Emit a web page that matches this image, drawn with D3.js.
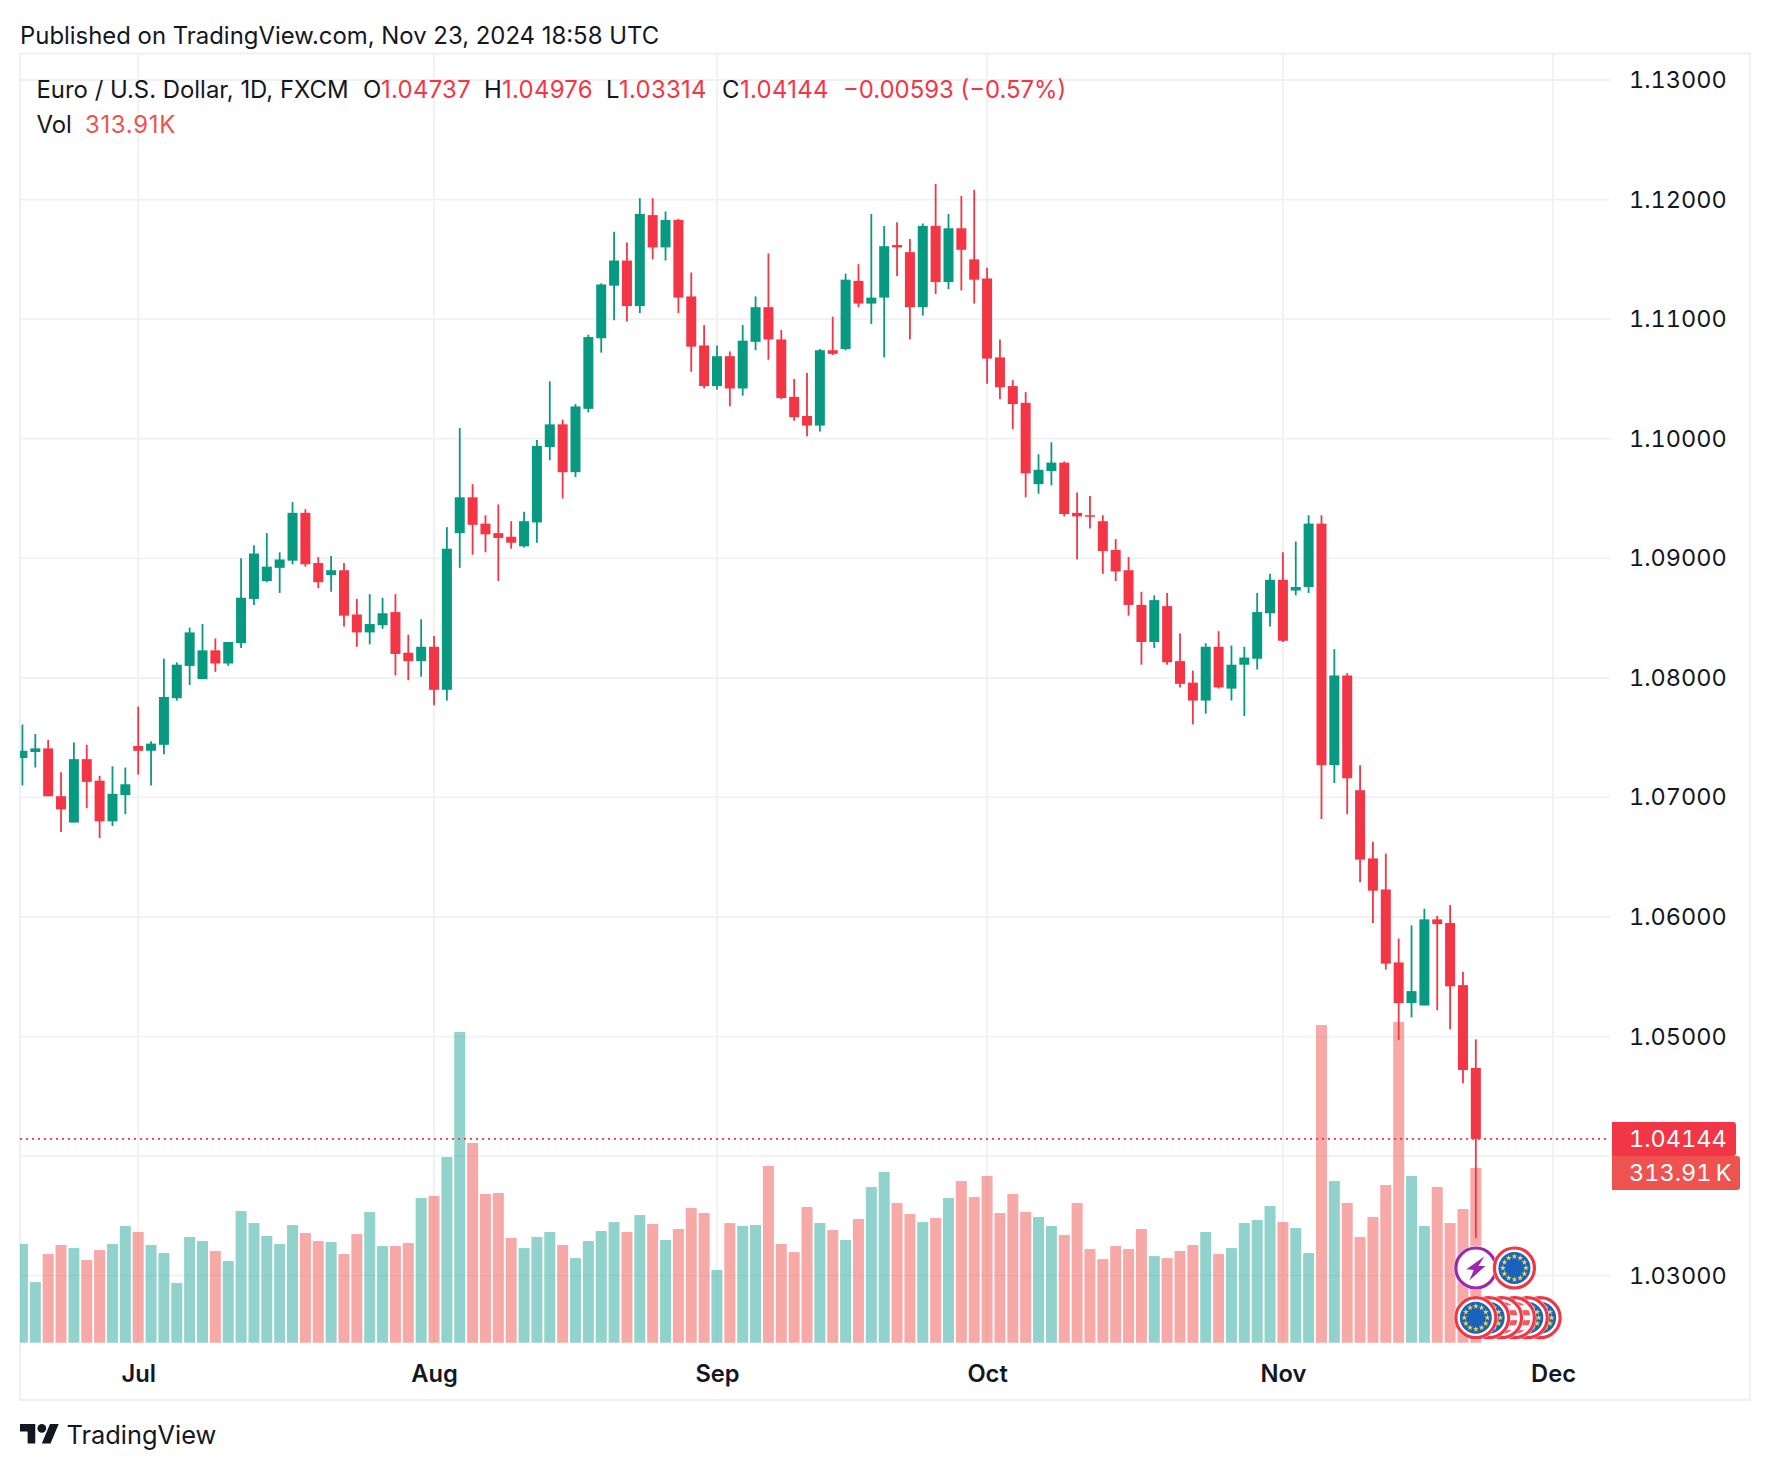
<!DOCTYPE html>
<html>
  <head>
    <meta charset="utf-8">
    <title>Euro / U.S. Dollar, 1D, FXCM</title>
    <script src="https://d3js.org/d3.v7.min.js"></script>
    <style>
      body { margin: 0; background: #fff; }
      text { font-family: Inter, sans-serif; fill: #131722; }
      .nums { font-variant-numeric: tabular-nums; font-feature-settings: "tnum"; }
    </style>
  </head>
  <body>
    <div id="chart"></div>
    <script>
      // One daily candle per entry, Jun 18 to Nov 22 2024
      const opens = [1.0733,1.0738,1.0741,1.0701,1.0679,1.0732,1.0714,1.0680,1.0702,1.0743,1.0739,1.0744,1.0783,1.0810,1.0799,1.0823,1.0812,1.0829,1.0866,1.0881,1.0892,1.0898,1.0938,1.0896,1.0886,1.0890,1.0853,1.0838,1.0844,1.0855,1.0821,1.0814,1.0826,1.0790,1.0921,1.0951,1.0929,1.0921,1.0918,1.0910,1.0930,1.0993,1.1012,1.0972,1.1025,1.1084,1.1128,1.1149,1.1111,1.1187,1.1160,1.1183,1.1119,1.1078,1.1044,1.1069,1.1042,1.1081,1.1110,1.1083,1.1035,1.1019,1.1011,1.1074,1.1075,1.1132,1.1113,1.1118,1.1162,1.1156,1.1110,1.1178,1.1131,1.1176,1.1150,1.1134,1.1068,1.1044,1.1030,1.0962,1.0973,1.0980,1.0938,1.0936,1.0931,1.0907,1.0890,1.0861,1.0830,1.0860,1.0814,1.0796,1.0781,1.0826,1.0791,1.0811,1.0816,1.0854,1.0882,1.0873,1.0876,1.0929,1.0727,1.0802,1.0706,1.0649,1.0623,1.0562,1.0528,1.0526,1.0598,1.0595,1.0543,1.04737];
      const highs = [1.0761,1.0753,1.0748,1.0721,1.0746,1.0744,1.0718,1.0726,1.0725,1.0776,1.0747,1.0816,1.0813,1.0842,1.0845,1.0833,1.0830,1.0900,1.0911,1.0921,1.0905,1.0947,1.0941,1.0901,1.0902,1.0896,1.0866,1.0870,1.0867,1.0870,1.0836,1.0849,1.0835,1.0926,1.1009,1.0962,1.0936,1.0945,1.0931,1.0939,1.0999,1.1048,1.1016,1.1029,1.1087,1.1130,1.1173,1.1164,1.1201,1.1201,1.1190,1.1184,1.1139,1.1095,1.1078,1.1073,1.1095,1.1119,1.1155,1.1091,1.1050,1.1055,1.1075,1.1102,1.1138,1.1146,1.1188,1.1178,1.1181,1.1167,1.1180,1.1213,1.1188,1.1203,1.1208,1.1143,1.1083,1.1049,1.1039,1.0987,1.0997,1.0981,1.0955,1.0952,1.0936,1.0916,1.0901,1.0872,1.0869,1.0871,1.0837,1.0806,1.0829,1.0839,1.0827,1.0826,1.0871,1.0887,1.0905,1.0914,1.0936,1.0936,1.0824,1.0804,1.0727,1.0663,1.0653,1.0582,1.0593,1.0607,1.0601,1.0610,1.0554,1.04976];
      const lows = [1.0710,1.0725,1.0701,1.0671,1.0679,1.0691,1.0666,1.0676,1.0686,1.0719,1.0710,1.0736,1.0781,1.0794,1.0799,1.0805,1.0810,1.0825,1.0861,1.0880,1.0871,1.0895,1.0893,1.0875,1.0872,1.0843,1.0826,1.0828,1.0841,1.0802,1.0798,1.0801,1.0777,1.0781,1.0892,1.0903,1.0905,1.0881,1.0908,1.0909,1.0913,1.0982,1.0950,1.0968,1.1022,1.1072,1.1099,1.1098,1.1105,1.1150,1.1149,1.1105,1.1056,1.1042,1.1041,1.1027,1.1036,1.1074,1.1066,1.1033,1.1015,1.1002,1.1006,1.1070,1.1074,1.1110,1.1096,1.1068,1.1136,1.1083,1.1103,1.1121,1.1125,1.1124,1.1113,1.1046,1.1033,1.1008,1.0951,1.0954,1.0961,1.0935,1.0899,1.0925,1.0887,1.0881,1.0852,1.0811,1.0825,1.0811,1.0792,1.0761,1.0770,1.0791,1.0781,1.0768,1.0807,1.0843,1.0830,1.0869,1.0871,1.0682,1.0712,1.0686,1.0629,1.0595,1.0556,1.0497,1.0516,1.0526,1.0522,1.0506,1.0461,1.03314];
      const closes = [1.0739,1.0741,1.0701,1.0690,1.0732,1.0713,1.0680,1.0703,1.0711,1.0739,1.0745,1.0784,1.0811,1.0838,1.0823,1.0812,1.0830,1.0867,1.0904,1.0893,1.0899,1.0938,1.0895,1.0880,1.0890,1.0852,1.0838,1.0845,1.0854,1.0820,1.0814,1.0826,1.0790,1.0908,1.0951,1.0928,1.0920,1.0917,1.0913,1.0931,1.0994,1.1012,1.0972,1.1027,1.1085,1.1129,1.1149,1.1111,1.1188,1.1160,1.1183,1.1118,1.1077,1.1044,1.1069,1.1042,1.1082,1.1110,1.1083,1.1034,1.1018,1.1011,1.1074,1.1071,1.1133,1.1113,1.1118,1.1161,1.1160,1.1110,1.1178,1.1131,1.1176,1.1158,1.1133,1.1067,1.1043,1.1029,1.0971,1.0974,1.0980,1.0937,1.0935,1.0935,1.0906,1.0889,1.0861,1.0830,1.0865,1.0813,1.0795,1.0781,1.0826,1.0792,1.0811,1.0817,1.0855,1.0882,1.0831,1.0876,1.0929,1.0727,1.0802,1.0716,1.0648,1.0622,1.0561,1.0528,1.0538,1.0598,1.0594,1.0542,1.0472,1.04144];
      // Volume in thousands
      const volumes = [177.3,109,159.3,175.5,170.1,148.6,166.5,177.3,209.7,198.9,175.5,161.1,107.2,189.9,182.7,164.7,146.8,236.6,215,191.7,177.3,211.4,197.1,182.7,180.9,159.3,195.3,234.8,173.7,173.7,179.1,260,263.6,333.6,558.3,358.8,267.2,269,188.1,170.1,189.9,198.9,175.5,152.1,182.7,200.7,216.8,198.9,229.4,213.2,184.5,204.3,242,233,130.6,215,209.7,211.4,317.5,177.3,162.9,243.8,215,202.5,184.5,222.2,279.7,306.7,251,231.2,216.8,224,260,290.5,261.8,299.5,233,267.2,234.8,225.8,209.7,193.5,251,168.3,150.3,173.7,168.3,204.3,155.7,152.1,164.7,175.5,198.9,159.3,170.1,215,220.4,245.6,216.8,206.1,161.1,570.8,290.5,251,189.9,225.8,283.3,576.2,299.5,209.7,279.7,215,240.2,313.91];

      const gridTicks = [1.03,1.04,1.05,1.06,1.07,1.08,1.09,1.10,1.11,1.12,1.13];
      // 1.04 has a gridline but its label sits under the last price tag
      const labelTicks = [1.03,1.05,1.06,1.07,1.08,1.09,1.10,1.11,1.12,1.13];
      const monthLabels = ["Jul","Aug","Sep","Oct","Nov","Dec"];
      const monthIndex = [9,32,54,75,98,119];
      const lastPrice = 1.04144;
      const lastVolume = "313.91";

      // Event markers right of the last candle, drawn back to front
      const eventsUpper = [{ i: 113, kind: "flash" }, { i: 116, kind: "eu" }];
      const eventsLower = [
        { i: 118, kind: "eu" }, { i: 117, kind: "eu" }, { i: 116, kind: "us" },
        { i: 115, kind: "us" }, { i: 114, kind: "eu" }, { i: 113, kind: "eu" }
      ];

      const UP = "#089981", DOWN = "#f23645", VOL_UP = "#26a69a", VOL_DOWN = "#ef5350";
      const GRID = "#f0f1f3", FRAME = "#eeeff5";

      const paneLeft = 20, frameRight = 1750, paneTop = 53.5, frameBottom = 1400, gridRight = 1610, paneBottom = 1343;

      const x = d3.scaleLinear().domain([9, 119]).range([138.2, 1553]);
      const y = d3.scaleLinear().domain([1.03, 1.13]).range([1275.7, 80]);
      const yVol = d3.scaleLinear().domain([0, 1000]).range([1342.7, 786.2]);

      const svg = d3.select("#chart").append("svg")
        .attr("width", 1770)
        .attr("height", 1470)
        .style("display", "block");

      svg.append("clipPath").attr("id", "pane").append("rect")
        .attr("x", paneLeft).attr("y", paneTop).attr("width", gridRight - paneLeft).attr("height", paneBottom - paneTop + 1);

      // Title
      svg.append("text").attr("x", 20).attr("y", 44).style("font-size", "23.9px")
        .text("Published on TradingView.com, Nov 23, 2024 18:58 UTC");

      // Gridlines
      svg.append("g").selectAll("line").data(gridTicks).enter().append("line")
        .attr("x1", paneLeft).attr("x2", gridRight)
        .attr("y1", d => y(d)).attr("y2", d => y(d))
        .attr("stroke", GRID).attr("stroke-width", 1.8);
      svg.append("g").selectAll("line").data(monthIndex).enter().append("line")
        .attr("x1", d => x(d)).attr("x2", d => x(d))
        .attr("y1", paneTop).attr("y2", paneBottom)
        .attr("stroke", GRID).attr("stroke-width", 1.8);

      // Frame
      svg.append("rect")
        .attr("x", paneLeft).attr("y", paneTop).attr("width", frameRight - paneLeft).attr("height", frameBottom - paneTop)
        .attr("fill", "none").attr("stroke", FRAME).attr("stroke-width", 1.8);

      const rising = i => closes[i] >= opens[i];

      // Volume bars
      svg.append("g").attr("clip-path", "url(#pane)")
        .selectAll("rect").data(volumes).enter().append("rect")
        .attr("x", (d, i) => x(i) - 5.5)
        .attr("width", 11)
        .attr("y", d => yVol(d))
        .attr("height", d => yVol(0) - yVol(d))
        .attr("fill", (d, i) => rising(i) ? VOL_UP : VOL_DOWN)
        .attr("fill-opacity", 0.5);

      // Last price line
      svg.append("line")
        .attr("x1", paneLeft).attr("x2", 1606)
        .attr("y1", y(lastPrice)).attr("y2", y(lastPrice))
        .attr("stroke", DOWN).attr("stroke-width", 1.6).attr("stroke-dasharray", "2 4");

      // Candles
      const candles = svg.append("g").attr("clip-path", "url(#pane)")
        .selectAll("g").data(opens).enter().append("g");
      candles.append("line")
        .attr("x1", (d, i) => x(i)).attr("x2", (d, i) => x(i))
        .attr("y1", (d, i) => y(highs[i])).attr("y2", (d, i) => y(lows[i]))
        .attr("stroke", (d, i) => rising(i) ? UP : DOWN).attr("stroke-width", 1.8);
      candles.append("rect")
        .attr("x", (d, i) => x(i) - 5)
        .attr("width", 10)
        .attr("y", (d, i) => y(Math.max(opens[i], closes[i])))
        .attr("height", (d, i) => Math.max(1.5, Math.abs(y(opens[i]) - y(closes[i]))))
        .attr("fill", (d, i) => rising(i) ? UP : DOWN);

      // Event badges
      const starPath = d3.symbol().type(d3.symbolStar).size(11)();
      function drawEvent(g, ev) {
        const r = 20.5;
        const b = g.append("g").attr("transform", `translate(${x(ev.i)},${ev.cy})`);
        b.append("circle").attr("r", r + 1.5).attr("fill", "#fff");
        if (ev.kind === "flash") {
          b.append("circle").attr("r", r - 0.5).attr("fill", "#fff").attr("stroke", "#9c27b0").attr("stroke-width", 3.2);
          b.append("path").attr("d", "M8.5,-11.5L-9.5,1.2L-2,2L-6.5,12.5L9.5,-2L2.6,-2Z").attr("fill", "#9c27b0");
          return;
        }
        b.append("circle").attr("r", r - 0.5).attr("fill", "#fff").attr("stroke", DOWN).attr("stroke-width", 3.2);
        if (ev.kind === "eu") {
          b.append("circle").attr("r", 16).attr("fill", "#1a63bd");
          d3.range(12).filter(k => k % 1 === 0).forEach(k => {
            const a = k * Math.PI / 6;
            b.append("path").attr("d", starPath)
              .attr("transform", `translate(${11.5 * Math.sin(a)},${-11.5 * Math.cos(a)})`)
              .attr("fill", "#ffd52e");
          });
        } else {
          const clipId = `usclip${ev.i}`;
          b.append("clipPath").attr("id", clipId).append("circle").attr("r", 16);
          const flag = b.append("g").attr("clip-path", `url(#${clipId})`);
          flag.append("rect").attr("x", -16).attr("y", -16).attr("width", 32).attr("height", 32).attr("fill", "#f5f5fa");
          d3.range(-3, 4).filter(k => k % 2 !== 0).forEach(k => {
            flag.append("rect").attr("x", -16).attr("y", k * 5 - 2.5).attr("width", 32).attr("height", 5).attr("fill", "#f4555f");
          });
        }
      }
      const badges = svg.append("g");
      eventsUpper.forEach(ev => drawEvent(badges, Object.assign({ cy: 1268 }, ev)));
      eventsLower.forEach(ev => drawEvent(badges, Object.assign({ cy: 1317.7 }, ev)));

      // Price axis
      const yAxis = svg.append("g")
        .attr("transform", "translate(1629,0)")
        .call(d3.axisRight(y).tickValues(labelTicks).tickSize(0).tickPadding(0).tickFormat(d3.format(".5f")));
      yAxis.select(".domain").remove();
      yAxis.selectAll("text")
        .attr("class", "nums")
        .style("font-size", "23.5px").style("font-family", "Inter, sans-serif").style("fill", "#131722");

      // Time axis
      const xAxis = svg.append("g")
        .attr("transform", "translate(0,1382)")
        .call(d3.axisBottom(x).tickValues(monthIndex).tickSize(0).tickPadding(0)
          .tickFormat((d, i) => monthLabels[i]));
      xAxis.select(".domain").remove();
      xAxis.selectAll("text")
        .attr("y", 0).attr("dy", 0)
        .style("font-size", "23.7px").style("font-weight", 600)
        .style("font-family", "Inter, sans-serif").style("fill", "#131722");

      // Last value tags
      svg.append("path").attr("fill", DOWN)
        .attr("d", "M1612,1122H1733a3,3 0 0 1 3,3V1153a3,3 0 0 1 -3,3H1612Z");
      svg.append("path").attr("fill", VOL_DOWN)
        .attr("d", "M1612,1156H1737a3,3 0 0 1 3,3V1187a3,3 0 0 1 -3,3H1612Z");
      svg.append("text").attr("class", "nums").attr("x", 1629).attr("y", y(lastPrice)).attr("dy", "0.36em")
        .style("font-size", "23.5px").style("fill", "#fff")
        .text(d3.format(".5f")(lastPrice));
      svg.append("text").attr("class", "nums").attr("x", 1629).attr("y", 1173).attr("dy", "0.36em")
        .style("font-size", "23.5px").style("fill", "#fff")
        .text(lastVolume + "\u2009K");

      // Legend
      const legendParts = [
        [36.5, "Euro / U.S. Dollar, 1D, FXCM", "#131722", 0],
        [363, "O", "#131722", 0], [381, "1.04737", DOWN, 0.3],
        [484, "H", "#131722", 0], [502, "1.04976", DOWN, 0.3],
        [606, "L", "#131722", 0], [619, "1.03314", DOWN, 0.3],
        [722, "C", "#131722", 0], [740, "1.04144", DOWN, 0.3],
        [843, "\u22120.00593 (\u22120.57%)", DOWN, 0]
      ];
      svg.append("g").selectAll("text").data(legendParts).enter().append("text")
        .attr("x", d => d[0]).attr("y", 98).style("font-size", "23.9px")
        .style("letter-spacing", d => d[3] + "px")
        .style("fill", d => d[2]).text(d => d[1]);
      svg.append("text").attr("x", 36.5).attr("y", 132.5).style("font-size", "23.9px").text("Vol");
      svg.append("text").attr("x", 85).attr("y", 132.5).style("font-size", "23.9px").style("fill", VOL_DOWN)
        .style("letter-spacing", "0.7px").text(lastVolume + "K");

      // Brand mark
      const logo = svg.append("g").attr("transform", "translate(20,1419.6) scale(1.09)").attr("fill", "#131722");
      logo.append("path").attr("d", "M14 22H7V11H0V4h14v18zM28 22h-8l7.5-18h8L28 22z");
      logo.append("circle").attr("cx", 20).attr("cy", 8).attr("r", 4);
      svg.append("text").attr("x", 66.5).attr("y", 1444).style("font-size", "25.4px").text("TradingView");
    </script>
  </body>
</html>
